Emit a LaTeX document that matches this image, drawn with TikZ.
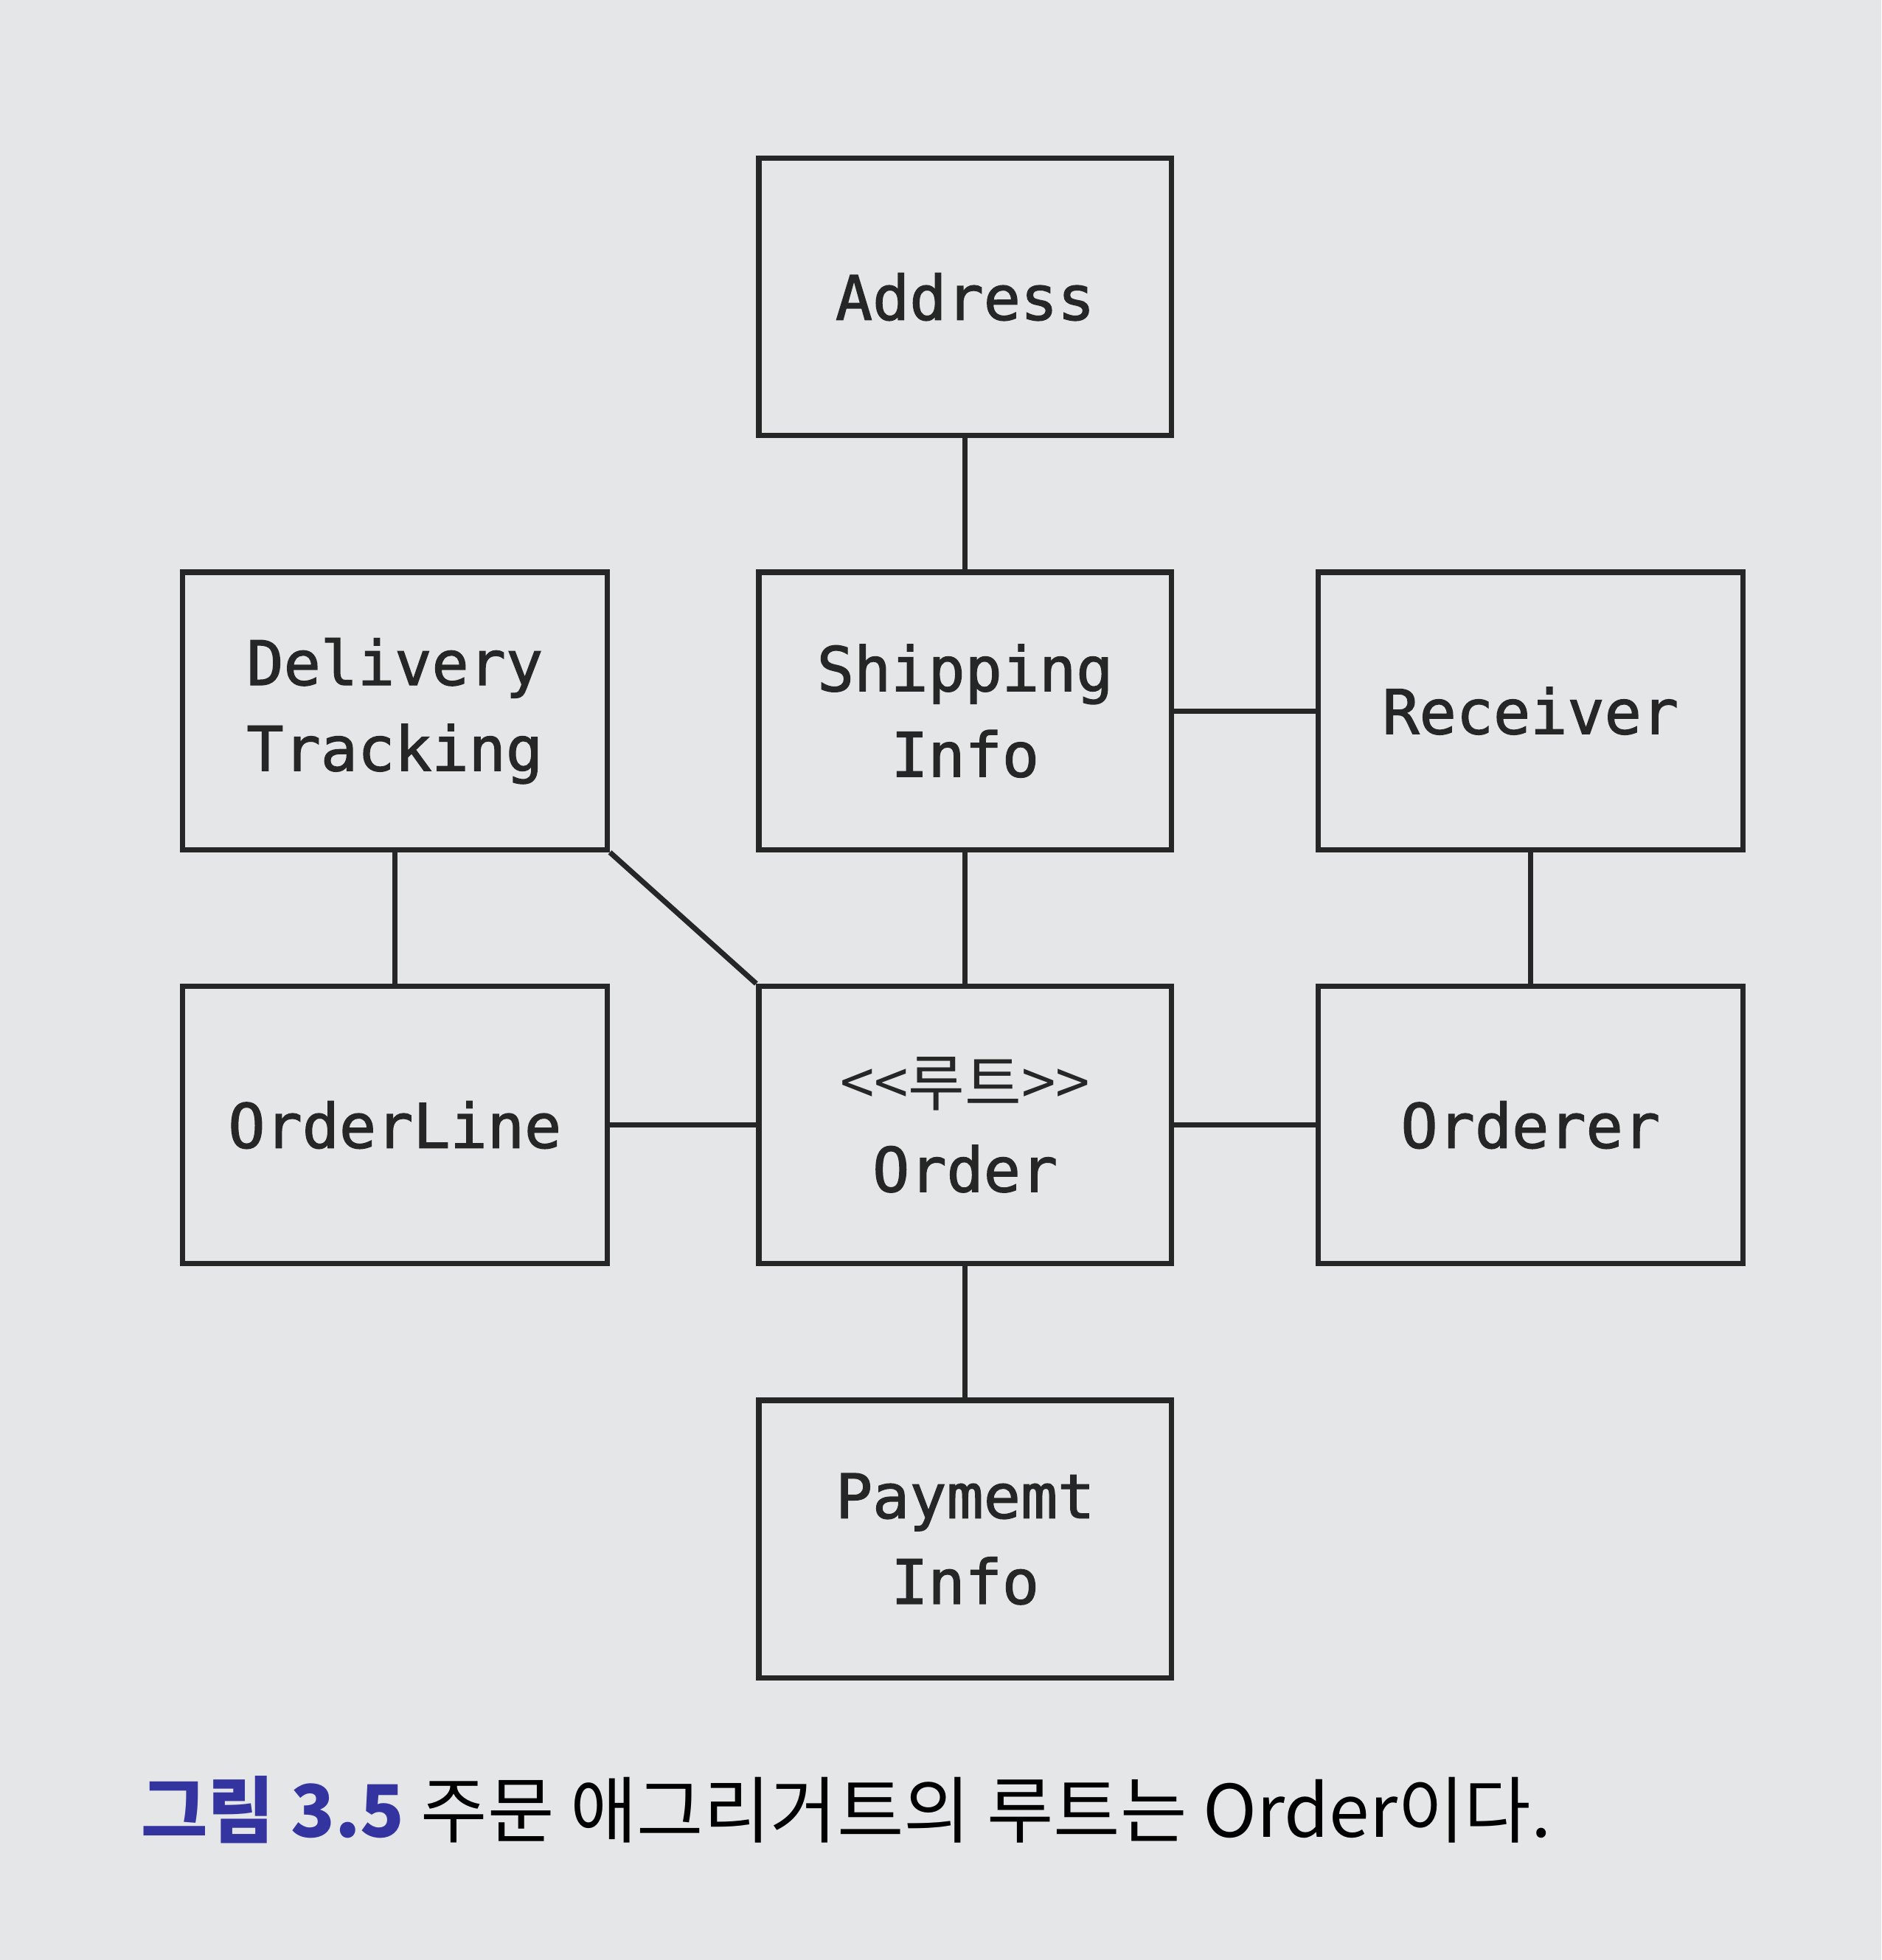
\documentclass[tikz,border=0pt]{standalone}
\usepackage{fontspec}
\newfontfamily\boxfont{DejaVu Sans Mono}[RawFeature={embolden=1.6}]
\newfontfamily\kofont{Noto Sans CJK KR}
\usetikzlibrary{positioning}

\definecolor{paper}{RGB}{228,230,231}
\definecolor{ink}{RGB}{38,38,38}
\definecolor{figblue}{RGB}{52,52,160}

\tikzset{
    box/.style={draw=ink, line width=1.2pt, rectangle, minimum width=3.3cm, minimum height=2.22cm,
        align=center, text=ink, font=\boxfont\fontsize{14}{19.5}\selectfont},
    widebox/.style={box, minimum width=3.4cm},
    link/.style={draw=ink, line width=1.2pt}
}

\begin{document}
\begin{tikzpicture}
        \fill[paper] (0,0) rectangle (15.05,15.68);
        \useasboundingbox (0,0) rectangle (15.05,15.68);

        \node[box] (order) at (7.72,6.68) {{\kofont\fontsize{14}{19.5}\selectfont <<루트>>}\\Order};
        \node[box, above=1.05cm of order] (shipping) {Shipping\\Info};
        \node[box, above=1.05cm of shipping] (address) {Address};
        \node[box, below=1.05cm of order] (payment) {Paymemt\\Info};
        \node[widebox, left=1.17cm of order] (orderline) {OrderLine};
        \node[widebox, left=1.17cm of shipping] (delivery) {Delivery\\Tracking};
        \node[widebox, right=1.13cm of order] (orderer) {Orderer};
        \node[widebox, right=1.13cm of shipping] (receiver) {Receiver};

        \draw[link] (address) -- (shipping);
        \draw[link] (shipping) -- (order);
        \draw[link] (order) -- (payment);
        \draw[link] (shipping) -- (receiver);
        \draw[link] (receiver) -- (orderer);
        \draw[link] (order) -- (orderer);
        \draw[link] (orderline) -- (order);
        \draw[link] (delivery) -- (orderline);
        \draw[link] (delivery.south east) -- (order.north west); % diagonal

        \node[anchor=base west, inner sep=0pt, font=\kofont\fontsize{16.5}{20}\selectfont] (caption) at (1.12,0.98)
            {{\color{figblue}\bfseries 그림 3.5} 주문 애그리거트의 루트는 Order이다.};
    \end{tikzpicture}
\end{document}
